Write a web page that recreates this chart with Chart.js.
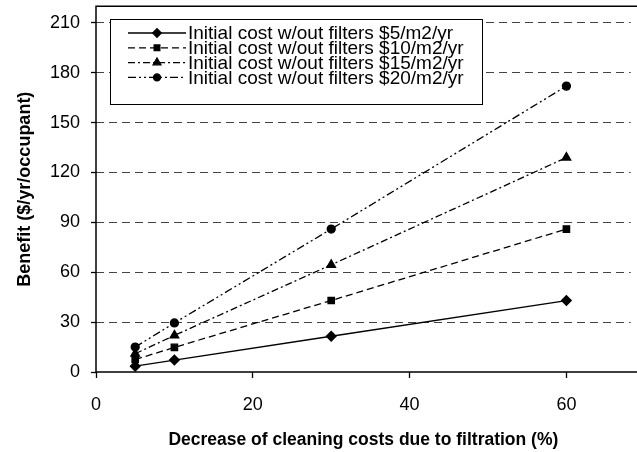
<!DOCTYPE html>
<html>
<head>
<meta charset="utf-8">
<script src="https://cdn.jsdelivr.net/npm/chart.js@4.4.0/dist/chart.umd.min.js"></script>
<style>
  html, body { margin: 0; padding: 0; background: #fff; overflow: hidden; }
  #wrap { width: 637px; height: 452px; }
</style>
</head>
<body>
<div id="wrap"><canvas id="chart" width="637" height="452"></canvas></div>
<script>
// data
const reductions = [5, 10, 30, 60];           // % decrease of cleaning costs
const cost5  = [3.5, 7.2, 21.5, 43];
const cost10 = [7.5, 14.8, 43, 86];
const cost15 = [11, 22, 64.5, 129];
const cost20 = [15, 29.5, 86, 172];
const seriesLabels = [
  "Initial cost w/out filters $5/m2/yr",
  "Initial cost w/out filters $10/m2/yr",
  "Initial cost w/out filters $15/m2/yr",
  "Initial cost w/out filters $20/m2/yr"
];
const xTicks = [0, 20, 40, 60];
const yTicks = [0, 30, 60, 90, 120, 150, 180, 210];

const FONT = "'Liberation Sans', Arial, sans-serif";

function pts(ys) {
  return reductions.map((x, i) => ({ x: x, y: ys[i] }));
}

function series(label, ys, dash, style, radius) {
  return {
    label: label,
    data: pts(ys),
    borderColor: "#000",
    backgroundColor: "#000",
    borderWidth: 1.3,
    borderDash: dash,
    pointStyle: style,
    pointRadius: radius,
    pointHoverRadius: radius,
    pointBackgroundColor: "#000",
    pointBorderColor: "#000",
    tension: 0
  };
}

// legend box drawn inside the plot, with line + marker samples
const boxLegend = {
  id: "boxLegend",
  afterDraw(chart) {
    const ctx = chart.ctx;
    const x0 = 110, y0 = 19, w = 372, h = 85;
    ctx.save();
    ctx.fillStyle = "#fff";
    ctx.fillRect(x0, y0, w, h);
    ctx.strokeStyle = "#000";
    ctx.lineWidth = 1;
    ctx.strokeRect(x0 + 0.5, y0 + 0.5, w, h);
    ctx.font = "19px " + FONT;
    ctx.textBaseline = "middle";
    chart.data.datasets.forEach((ds, i) => {
      const y = 33 + i * 14.8;
      ctx.strokeStyle = "#000";
      ctx.lineWidth = 1.3;
      ctx.setLineDash(ds.borderDash);
      ctx.beginPath();
      ctx.moveTo(128, y);
      ctx.lineTo(186, y);
      ctx.stroke();
      ctx.setLineDash([]);
      ctx.fillStyle = "#000";
      Chart.helpers.drawPoint(ctx, {
        pointStyle: ds.pointStyle, radius: ds.pointRadius - 0.5, borderWidth: 1
      }, 157, y);
      ctx.fillStyle = "#000";
      ctx.fillText(ds.label, 188, y + 1);
    });
    ctx.restore();
  }
};

// solid left, bottom and top edges of the plot area
const frame = {
  id: "frame",
  afterDatasetsDraw(chart) {
    const a = chart.chartArea, ctx = chart.ctx;
    ctx.save();
    ctx.strokeStyle = "#000";
    ctx.lineWidth = 1.5;
    ctx.setLineDash([]);
    ctx.beginPath();
    ctx.moveTo(chart.width, a.top);
    ctx.lineTo(a.left, a.top);
    ctx.lineTo(a.left, a.bottom);
    ctx.lineTo(chart.width, a.bottom);
    ctx.stroke();
    ctx.restore();
  }
};

new Chart(document.getElementById("chart"), {
  type: "line",
  data: {
    datasets: [
      series(seriesLabels[0], cost5,  [],                 "rectRot",  4.8),
      series(seriesLabels[1], cost10, [7, 4],             "rect",     4.5),
      series(seriesLabels[2], cost15, [7, 3, 2, 3],       "triangle", 5),
      series(seriesLabels[3], cost20, [8, 3, 2, 3, 2, 3], "circle",   4)
    ]
  },
  options: {
    responsive: false,
    animation: false,
    clip: false,
    layout: { padding: { top: 5, right: 0, left: 0, bottom: 0 } },
    plugins: {
      legend: { display: false },
      tooltip: { enabled: false }
    },
    scales: {
      x: {
        type: "linear",
        min: 0,
        max: 68.2,
        afterBuildTicks: (s) => { s.ticks = xTicks.map(v => ({ value: v })); },
        afterFit: (s) => { s.height = 80; s.paddingRight = 0; },
        grid: {
          drawOnChartArea: false,
          drawTicks: true,
          tickLength: 6,
          tickColor: "#000",
          tickWidth: 1.3
        },
        border: { display: false },
        ticks: {
          color: "#000",
          font: { family: FONT, size: 18 },
          padding: 16,
          maxRotation: 0
        },
        title: {
          display: true,
          text: "Decrease of cleaning costs due to filtration (%)",
          color: "#000",
          font: { family: FONT, size: 17.5, weight: "bold" },
          padding: { top: 6, bottom: 1 }
        }
      },
      y: {
        min: 0,
        max: 220,
        afterBuildTicks: (s) => { s.ticks = yTicks.map(v => ({ value: v })); },
        afterFit: (s) => { s.width = 96; s.paddingTop = 0; s.paddingBottom = 0; },
        grid: {
          color: (c) => c.tick && c.tick.value === 0 ? "rgba(0,0,0,0)" : "#444",
          lineWidth: 1,
          drawTicks: true,
          tickLength: 5,
          tickColor: "#000",
          tickWidth: 1.3,
          tickBorderDash: []
        },
        border: { display: false, dash: [8, 5] },
        ticks: {
          color: "#000",
          font: { family: FONT, size: 18 },
          padding: 11
        },
        title: {
          display: true,
          text: "Benefit ($/yr/occupant)",
          color: "#000",
          font: { family: FONT, size: 18, weight: "bold" },
          padding: { top: 14, bottom: 4 }
        }
      }
    }
  },
  plugins: [frame, boxLegend]
});
</script>
</body>
</html>
